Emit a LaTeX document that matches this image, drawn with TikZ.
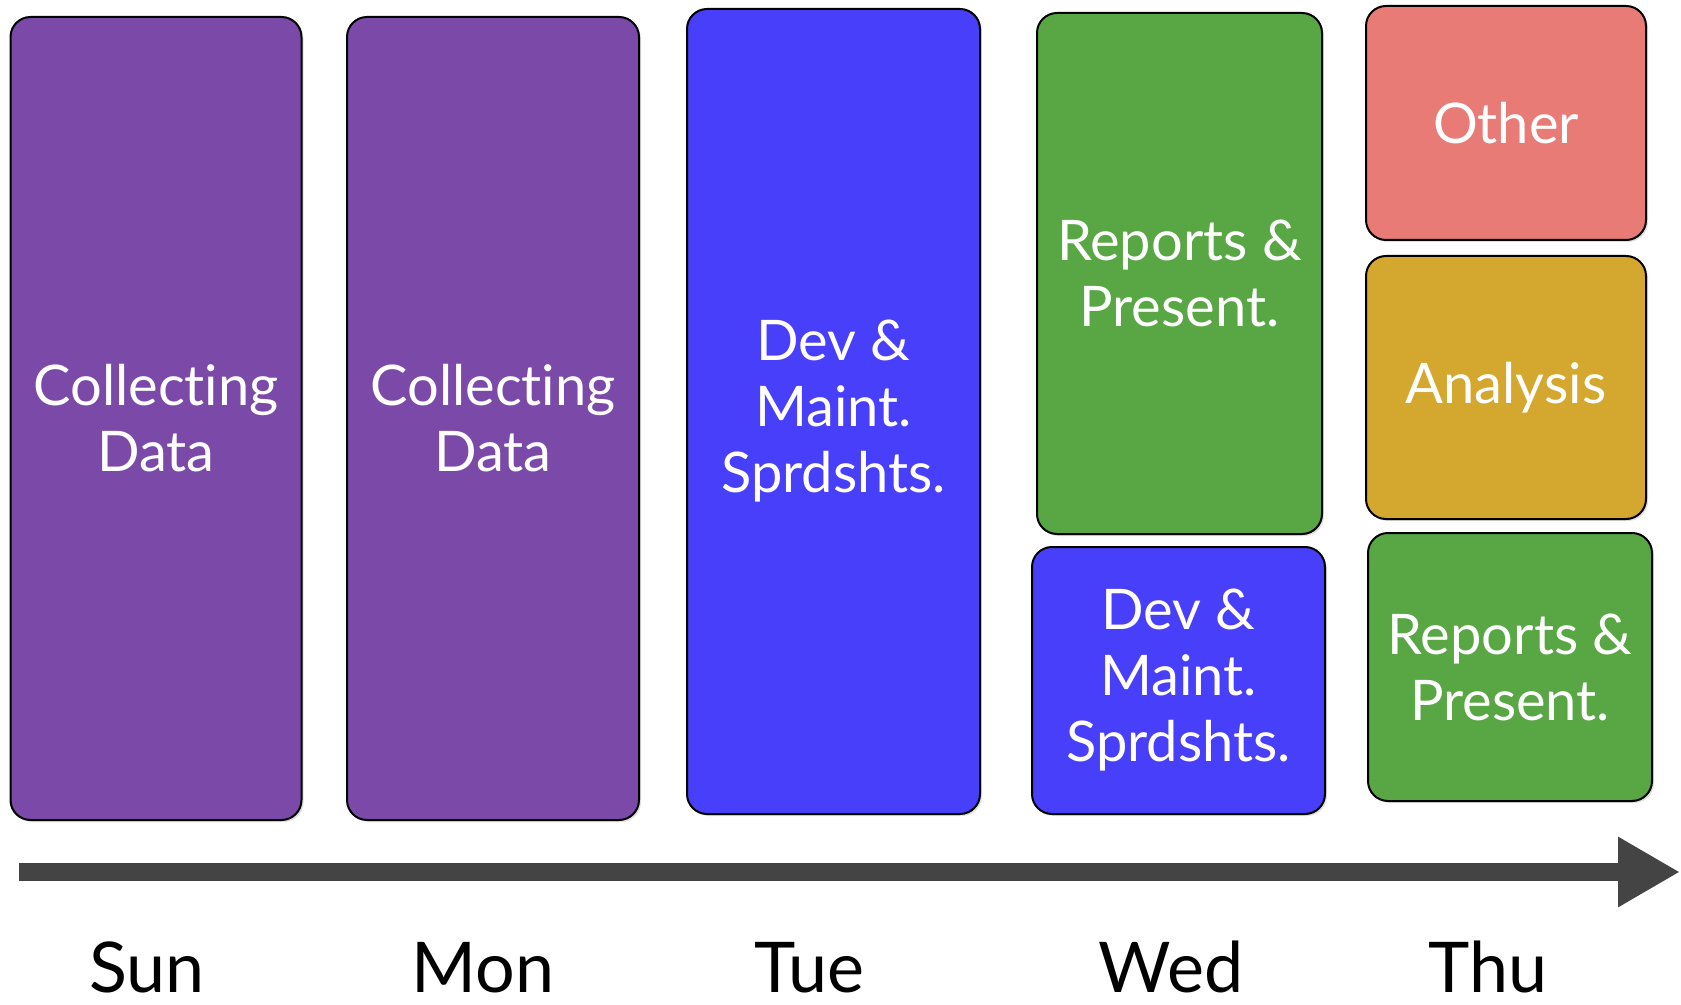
\documentclass[tikz,border=0pt]{standalone}
\usepackage{fontspec}
\setmainfont{Lato}[Ligatures=NoCommon]
\usetikzlibrary{arrows.meta,shadows}
\definecolor{collectcol}{HTML}{7B4AA8}
\definecolor{devcol}{HTML}{483FFA}
\definecolor{reportcol}{HTML}{58A744}
\definecolor{othercol}{HTML}{E97B76}
\definecolor{analysiscol}{HTML}{D4A72F}
\definecolor{arrowcol}{HTML}{444444}
\begin{document}
\begin{tikzpicture}[x=0.5pt,y=-0.5pt]
        \tikzstyle{task}=[draw=black, line width=1pt, rounded corners=10pt, text=white, align=center, inner sep=0pt,
                font=\fontsize{28}{33}\selectfont, drop shadow={shadow xshift=1pt, shadow yshift=-1pt, opacity=0.25}]
        \tikzstyle{day}=[font=\fontsize{35}{36}\selectfont, anchor=base, inner sep=0pt]
        \useasboundingbox (0,0) rectangle (1681,1005);
        % columns of tasks
        \node[task, fill=collectcol, minimum width=145.5pt, minimum height=401.5pt] (sun) at (156,418.5) {Collecting\\Data};
        \node[task, fill=collectcol, minimum width=146pt, minimum height=401.5pt] (mon) at (493,418.5) {Collecting\\Data};
        \node[task, fill=devcol, minimum width=146.5pt, minimum height=402.5pt] (tue) at (833.5,411.5) {Dev \&\\Maint.\\Sprdshts.};
        \node[task, fill=reportcol, minimum width=142.5pt, minimum height=260.5pt] (wedreport) at (1179.5,273.5) {Reports \&\\Present.};
        \node[task, fill=devcol, minimum width=146.5pt, minimum height=133.5pt] (weddev) at (1178.5,680.5) {Dev \&\\Maint.\\Sprdshts.};
        \node[task, fill=othercol, minimum width=140pt, minimum height=117pt] (thuother) at (1506,123) {Other};
        \node[task, fill=analysiscol, minimum width=140pt, minimum height=131.5pt] (thuanalysis) at (1506,387.5) {Analysis};
        \node[task, fill=reportcol, minimum width=142pt, minimum height=134pt] (thureport) at (1510,667) {Reports \&\\Present.};
        % time line
        \coordinate (tstart) at (19,872);
        \coordinate (tend) at (1680,872);
        \draw[draw=arrowcol, line width=9pt, -{Triangle[length=31pt,width=33pt]}] (tstart) -- (tend);
        \node[day] (sunday) at (147,992) {Sun};
        \node[day] (monday) at (483,992) {Mon};
        \node[day] (tueday) at (809,992) {Tue};
        \node[day] (wedday) at (1171,992) {Wed};
        \node[day] (thuday) at (1488,992) {Thu};
    \end{tikzpicture}
\end{document}
